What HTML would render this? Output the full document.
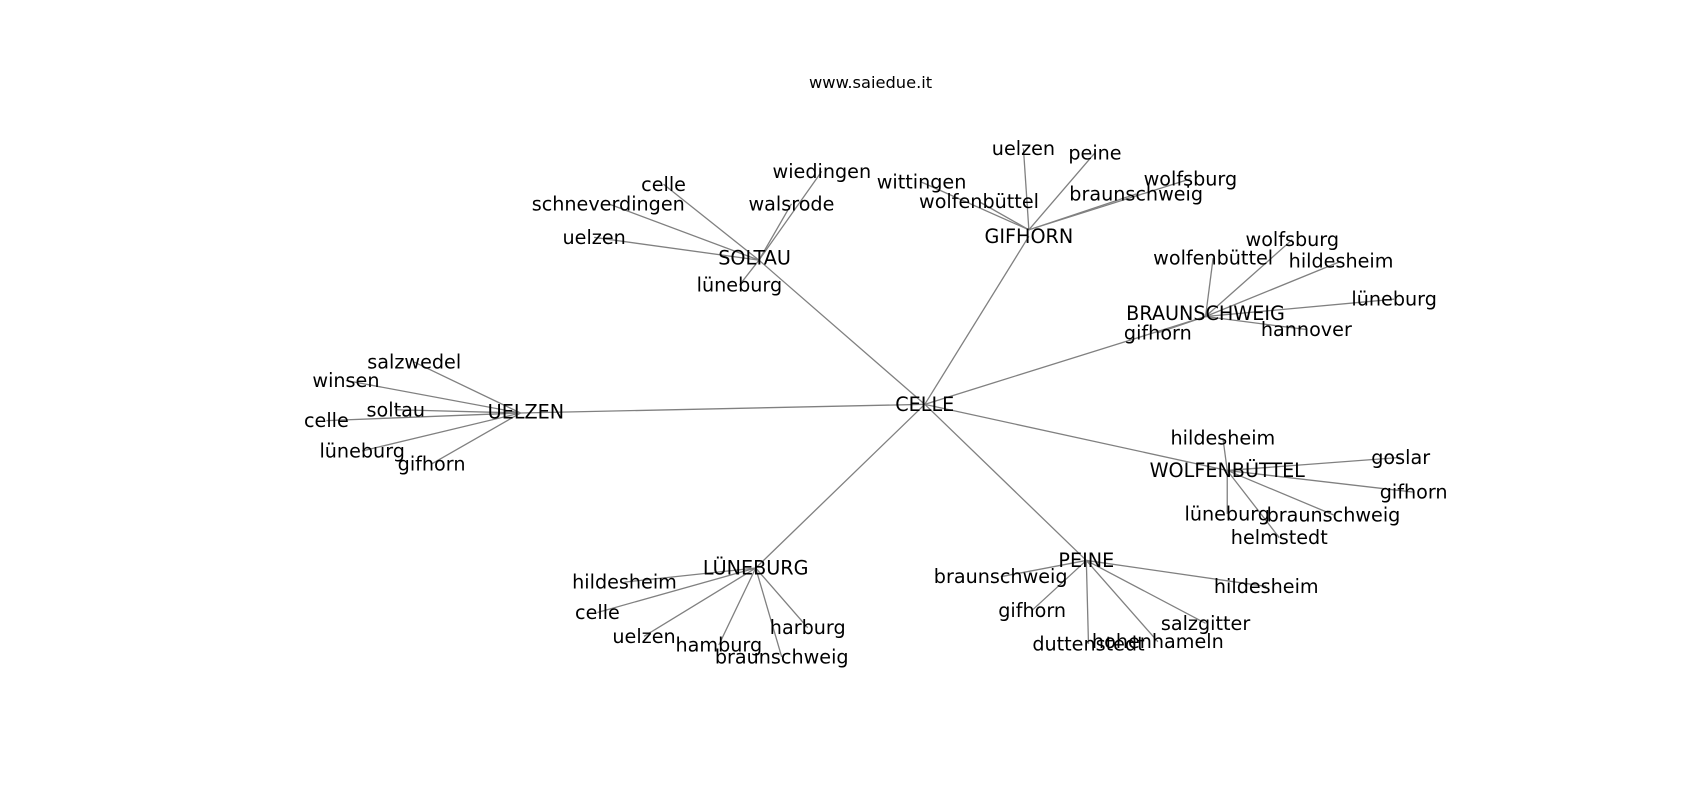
<!DOCTYPE html>
<html><head><meta charset="utf-8"><style>
html,body{margin:0;padding:0;background:#fff;}
svg{display:block;}
text{font-family:"DejaVu Sans","Liberation Sans",sans-serif;font-size:17.7px;fill:#000;text-anchor:middle;dominant-baseline:central;}
line{stroke:#808080;stroke-width:1.2;}
</style></head><body>
<svg width="1700" height="800" viewBox="0 0 1568 738" xmlns="http://www.w3.org/2000/svg">
<text x="803" y="76" style="font-size:15px">www.saiedue.it</text>
<g>
<line x1="853" y1="373" x2="480" y2="381"/>
<line x1="853" y1="373" x2="700" y2="240"/>
<line x1="853" y1="373" x2="949" y2="218"/>
<line x1="853" y1="373" x2="1112" y2="292"/>
<line x1="853" y1="373" x2="1132" y2="434"/>
<line x1="853" y1="373" x2="1002" y2="517"/>
<line x1="853" y1="373" x2="697" y2="524"/>
<line x1="480" y1="381" x2="382" y2="334"/>
<line x1="480" y1="381" x2="319" y2="351"/>
<line x1="480" y1="381" x2="365" y2="378"/>
<line x1="480" y1="381" x2="301" y2="388"/>
<line x1="480" y1="381" x2="334" y2="416"/>
<line x1="480" y1="381" x2="398" y2="428"/>
<line x1="700" y1="240" x2="612" y2="170"/>
<line x1="700" y1="240" x2="561" y2="188"/>
<line x1="700" y1="240" x2="548" y2="219"/>
<line x1="700" y1="240" x2="758" y2="158"/>
<line x1="700" y1="240" x2="730" y2="188"/>
<line x1="700" y1="240" x2="682" y2="263"/>
<line x1="949" y1="212" x2="944" y2="137"/>
<line x1="949" y1="212" x2="1010" y2="141"/>
<line x1="949" y1="212" x2="850" y2="168"/>
<line x1="949" y1="212" x2="903" y2="186"/>
<line x1="949" y1="212" x2="1098" y2="165"/>
<line x1="949" y1="212" x2="1048" y2="179"/>
<line x1="1112" y1="292" x2="1192" y2="221"/>
<line x1="1112" y1="292" x2="1119" y2="238"/>
<line x1="1112" y1="292" x2="1237" y2="241"/>
<line x1="1112" y1="292" x2="1286" y2="276"/>
<line x1="1112" y1="292" x2="1205" y2="304"/>
<line x1="1112" y1="292" x2="1068" y2="307"/>
<line x1="1132" y1="434" x2="1128" y2="404"/>
<line x1="1132" y1="434" x2="1292" y2="422"/>
<line x1="1132" y1="434" x2="1304" y2="454"/>
<line x1="1132" y1="434" x2="1132" y2="474"/>
<line x1="1132" y1="434" x2="1230" y2="475"/>
<line x1="1132" y1="434" x2="1180" y2="496"/>
<line x1="1002" y1="517" x2="923" y2="532"/>
<line x1="1002" y1="517" x2="1168" y2="541"/>
<line x1="1002" y1="517" x2="952" y2="563"/>
<line x1="1002" y1="517" x2="1112" y2="575"/>
<line x1="1002" y1="517" x2="1004" y2="594"/>
<line x1="1002" y1="517" x2="1068" y2="592"/>
<line x1="697" y1="524" x2="576" y2="537"/>
<line x1="697" y1="524" x2="551" y2="565"/>
<line x1="697" y1="524" x2="594" y2="587"/>
<line x1="697" y1="524" x2="663" y2="595"/>
<line x1="697" y1="524" x2="745" y2="579"/>
<line x1="697" y1="524" x2="721" y2="606"/>
</g>
<g>
<text x="853" y="373">CELLE</text>
<text x="485" y="380">UELZEN</text>
<text x="382" y="334">salzwedel</text>
<text x="319" y="351">winsen</text>
<text x="365" y="378">soltau</text>
<text x="301" y="388">celle</text>
<text x="334" y="416">lüneburg</text>
<text x="398" y="428">gifhorn</text>
<text x="696" y="238">SOLTAU</text>
<text x="612" y="170">celle</text>
<text x="561" y="188">schneverdingen</text>
<text x="548" y="219">uelzen</text>
<text x="758" y="158">wiedingen</text>
<text x="730" y="188">walsrode</text>
<text x="682" y="263">lüneburg</text>
<text x="949" y="218">GIFHORN</text>
<text x="944" y="137">uelzen</text>
<text x="1010" y="141">peine</text>
<text x="850" y="168">wittingen</text>
<text x="903" y="186">wolfenbüttel</text>
<text x="1098" y="165">wolfsburg</text>
<text x="1048" y="179">braunschweig</text>
<text x="1112" y="289">BRAUNSCHWEIG</text>
<text x="1192" y="221">wolfsburg</text>
<text x="1119" y="238">wolfenbüttel</text>
<text x="1237" y="241">hildesheim</text>
<text x="1286" y="276">lüneburg</text>
<text x="1205" y="304">hannover</text>
<text x="1068" y="307">gifhorn</text>
<text x="1132" y="434">WOLFENBÜTTEL</text>
<text x="1128" y="404">hildesheim</text>
<text x="1292" y="422">goslar</text>
<text x="1304" y="454">gifhorn</text>
<text x="1132" y="474">lüneburg</text>
<text x="1230" y="475">braunschweig</text>
<text x="1180" y="496">helmstedt</text>
<text x="1002" y="517">PEINE</text>
<text x="923" y="532">braunschweig</text>
<text x="1168" y="541">hildesheim</text>
<text x="952" y="563">gifhorn</text>
<text x="1112" y="575">salzgitter</text>
<text x="1004" y="594">duttenstedt</text>
<text x="1068" y="592">hohenhameln</text>
<text x="697" y="524">LÜNEBURG</text>
<text x="576" y="537">hildesheim</text>
<text x="551" y="565">celle</text>
<text x="594" y="587">uelzen</text>
<text x="663" y="595">hamburg</text>
<text x="745" y="579">harburg</text>
<text x="721" y="606">braunschweig</text>
</g>
</svg>
</body></html>
